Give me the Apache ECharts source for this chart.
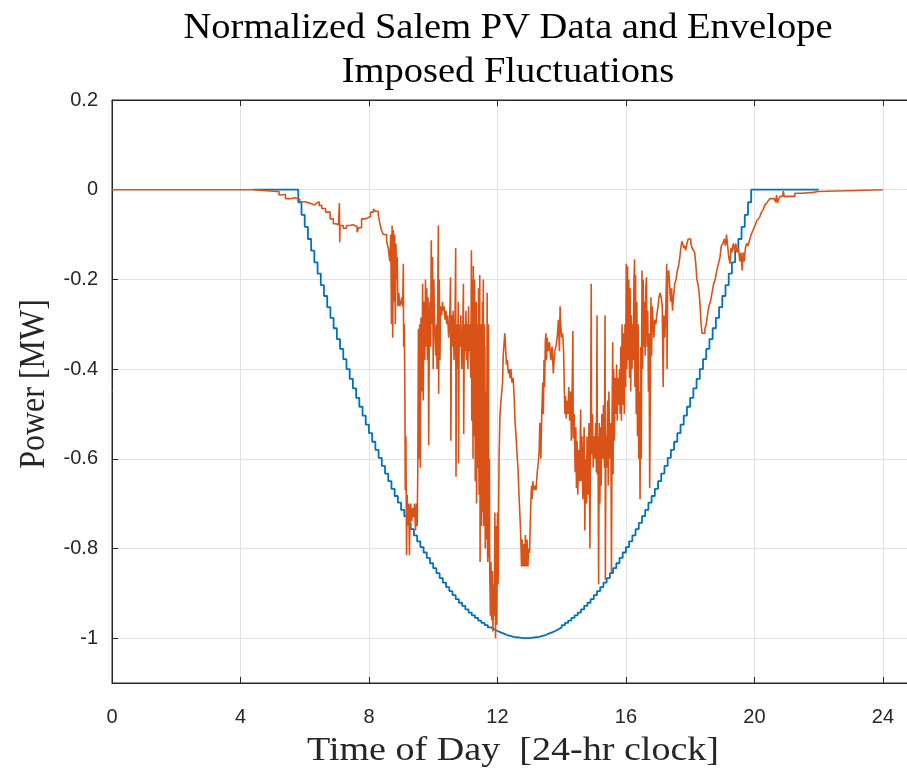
<!DOCTYPE html>
<html>
<head>
<meta charset="utf-8">
<script src="https://cdn.jsdelivr.net/npm/echarts@6/dist/echarts.min.js"></script>
<style>
html,body{margin:0;padding:0;background:#fff;}
#chart{width:907px;height:777px;}
</style>
</head>
<body>
<div id="chart"></div>
<script>
// ---- Text ----
const titleLines = ['Normalized Salem PV Data and Envelope', 'Imposed Fluctuations'];
const xAxisTitle = 'Time of Day  [24-hr clock]';
const yAxisTitle = 'Power [MW]';

// ---- Data (hours, MW) ----
const xTicks = [0, 4, 8, 12, 16, 20, 24];
const yTicks = [0.2, 0, -0.2, -0.4, -0.6, -0.8, -1];

// Envelope: flat zero before/after, stepped bowl sampled every 0.1 h from 5.8 h to 20.0 h
const envLeadIn = [[4.4, 0]];
const envStart = 5.8, envStep = 0.1;
const envValues = [
  0, -0.028, -0.056, -0.083, -0.110, -0.136, -0.162, -0.187, -0.213, -0.237,
  -0.262, -0.286, -0.309, -0.333, -0.355, -0.378, -0.400, -0.422, -0.443, -0.464,
  -0.484, -0.504, -0.524, -0.543, -0.562, -0.580, -0.598, -0.616, -0.633, -0.650,
  -0.667, -0.683, -0.698, -0.714, -0.728, -0.743, -0.757, -0.771, -0.784, -0.797,
  -0.809, -0.821, -0.833, -0.844, -0.855, -0.866, -0.876, -0.886, -0.895, -0.904,
  -0.913, -0.921, -0.928, -0.936, -0.943, -0.949, -0.955, -0.961, -0.966, -0.971,
  -0.976, -0.980, -0.984, -0.987, -0.990, -0.993, -0.995, -0.997, -0.998, -0.999,
  -1.000, -1.000,
  -1.000, -0.999, -0.998, -0.997, -0.995, -0.993, -0.990, -0.987, -0.984, -0.980,
  -0.976, -0.971, -0.966, -0.961, -0.955, -0.949, -0.943, -0.936, -0.928, -0.921,
  -0.913, -0.904, -0.895, -0.886, -0.876, -0.866, -0.855, -0.844, -0.833, -0.821,
  -0.809, -0.797, -0.784, -0.771, -0.757, -0.743, -0.728, -0.714, -0.698, -0.683,
  -0.667, -0.650, -0.633, -0.616, -0.598, -0.580, -0.562, -0.543, -0.524, -0.504,
  -0.484, -0.464, -0.443, -0.422, -0.400, -0.378, -0.355, -0.333, -0.309, -0.286,
  -0.262, -0.237, -0.213, -0.187, -0.162, -0.136, -0.110, -0.083, -0.056, -0.028, 0
];
const envLeadOut = [[22.0, 0]];

// Normalized PV measurements [hour, MW]
const pvMorning = [
  [0,0],[4.4,0],[4.4,-0.004],[5.13,-0.004],[5.2,-0.012],[5.3,-0.01],[5.4,-0.02],[5.55,-0.018],
  [5.7,-0.022],[5.85,-0.027],[6.0,-0.03],[6.16,-0.034],[6.3,-0.03],[6.37,-0.027],[6.45,-0.035],
  [6.53,-0.042],[6.65,-0.05],[6.79,-0.065],[6.89,-0.076],[6.97,-0.078],[7.05,-0.082],[7.08,-0.03],
  [7.09,-0.117],[7.1,-0.08],[7.2,-0.086],[7.3,-0.08],[7.4,-0.078],[7.5,-0.076],[7.56,-0.082],
  [7.63,-0.095],[7.68,-0.085],[7.77,-0.065],[7.9,-0.062],[7.98,-0.06],[8.05,-0.05],[8.14,-0.043],
  [8.2,-0.048],[8.29,-0.057],[8.34,-0.075],[8.39,-0.091],[8.45,-0.1],[8.55,-0.115],[8.6,-0.13],[8.65,-0.16]
];
const pvMidday1 = [
  [8.68,-0.1],[8.7,-0.3],[8.72,-0.08],[8.74,-0.33],[8.76,-0.09],[8.78,-0.25],[8.8,-0.1],[8.82,-0.3],
  [8.84,-0.12],[8.86,-0.2],[8.88,-0.15],[8.9,-0.26],[8.93,-0.23],[8.96,-0.26],[9.0,-0.25],[9.02,-0.24],
  [9.05,-0.26],[9.07,-0.165],[9.08,-0.35],[9.1,-0.3],[9.12,-0.47],[9.13,-0.67],[9.15,-0.55],[9.17,-0.815],
  [9.19,-0.68],[9.21,-0.75],[9.24,-0.7],[9.26,-0.815],[9.28,-0.72],[9.3,-0.7],[9.33,-0.74],[9.36,-0.71],
  [9.39,-0.73],[9.42,-0.7],[9.45,-0.76],[9.48,-0.7],[9.5,-0.75],[9.52,-0.63],[9.54,-0.31],[9.56,-0.6],
  [9.58,-0.3],[9.6,-0.62],[9.62,-0.285],[9.65,-0.45],[9.67,-0.21],[9.69,-0.47],[9.71,-0.25],[9.74,-0.38],
  [9.76,-0.2],[9.78,-0.35],[9.8,-0.22],[9.82,-0.38],[9.84,-0.24],[9.86,-0.57],[9.88,-0.3],[9.9,-0.25],
  [9.92,-0.35],[9.94,-0.113],[9.96,-0.3],[9.98,-0.15],[10.0,-0.4],[10.02,-0.2],[10.04,-0.3],[10.06,-0.33],
  [10.08,-0.37],[10.1,-0.3],[10.12,-0.4],[10.14,-0.25],[10.16,-0.08],[10.17,-0.455],[10.19,-0.2],[10.21,-0.38],
  [10.23,-0.26],[10.26,-0.28],[10.29,-0.25],[10.31,-0.27],[10.34,-0.26],[10.37,-0.29],[10.4,-0.27],[10.42,-0.3],
  [10.45,-0.28],[10.48,-0.33],[10.51,-0.3],[10.54,-0.195],[10.55,-0.56],[10.57,-0.28],[10.6,-0.35],[10.62,-0.27],
  [10.65,-0.38],[10.68,-0.28],[10.7,-0.13],[10.71,-0.64],[10.73,-0.3],[10.76,-0.4],[10.78,-0.25],[10.79,-0.61],
  [10.81,-0.3],[10.84,-0.35],[10.86,-0.28],[10.89,-0.4],[10.92,-0.32],[10.94,-0.21],[10.95,-0.545],[10.97,-0.3],
  [11.0,-0.36],[11.02,-0.27],[11.04,-0.38],[11.06,-0.3],[11.08,-0.4],[11.1,-0.26],[11.12,-0.36],[11.14,-0.3],
  [11.17,-0.42],[11.19,-0.135],[11.2,-0.515],[11.22,-0.2],[11.24,-0.6],[11.25,-0.17],[11.27,-0.55],[11.29,-0.2],
  [11.30,-0.3],[11.31,-0.65],[11.32,-0.28],[11.33,-0.6],[11.34,-0.25],[11.35,-0.7],[11.36,-0.35],[11.37,-0.62],
  [11.38,-0.3],[11.39,-0.62],[11.40,-0.4],[11.41,-0.22],[11.42,-0.6],[11.43,-0.68],[11.44,-0.3],[11.45,-0.19],
  [11.46,-0.83],[11.47,-0.4],[11.48,-0.7],[11.49,-0.3],[11.5,-0.75],[11.51,-0.35],[11.52,-0.72],[11.53,-0.25],
  [11.54,-0.7],[11.55,-0.4],[11.56,-0.2],[11.57,-0.75],[11.58,-0.66],[11.59,-0.3],[11.6,-0.7],[11.61,-0.35],
  [11.62,-0.8],[11.63,-0.5],[11.64,-0.78],[11.65,-0.45],[11.66,-0.75],[11.67,-0.5],[11.68,-0.23],[11.69,-0.8],
  [11.7,-0.83],[11.71,-0.4],[11.72,-0.3],[11.73,-0.8],[11.74,-0.82],[11.75,-0.6],[11.76,-0.85],
  [11.78,-0.95],[11.8,-0.83],[11.82,-0.96],[11.84,-0.85],[11.86,-0.985],[11.88,-0.88],[11.9,-0.95],[11.92,-0.72],
  [11.94,-1.0],[11.96,-0.75],[11.98,-0.97],[12.0,-0.72]
];
const pvMidday2 = [
  [12.02,-0.88],[12.05,-0.6],[12.08,-0.5],[12.11,-0.47],[12.13,-0.455],[12.16,-0.43],[12.18,-0.37],[12.21,-0.34],
  [12.23,-0.32],[12.26,-0.36],[12.28,-0.39],[12.31,-0.38],[12.34,-0.41],[12.37,-0.4],[12.39,-0.42],[12.42,-0.4],
  [12.45,-0.43],[12.49,-0.42],[12.52,-0.46],[12.55,-0.52],[12.58,-0.55],[12.61,-0.59],[12.64,-0.62],[12.67,-0.68],
  [12.69,-0.71],[12.72,-0.76],[12.75,-0.84],[12.77,-0.78],[12.8,-0.84],[12.82,-0.79],[12.85,-0.84],[12.87,-0.77],
  [12.9,-0.84],[12.92,-0.78],[12.95,-0.84],[12.97,-0.8],[13.0,-0.81],[13.03,-0.72],[13.06,-0.66],[13.08,-0.69],
  [13.1,-0.65],[13.13,-0.67],[13.16,-0.66],[13.2,-0.67],[13.24,-0.63],[13.27,-0.61],[13.3,-0.58],[13.32,-0.52],
  [13.35,-0.6],[13.38,-0.5],[13.41,-0.43],[13.43,-0.5],[13.45,-0.38],[13.47,-0.44],[13.49,-0.34],[13.51,-0.32],
  [13.53,-0.38],[13.55,-0.33],[13.58,-0.36],[13.62,-0.34],[13.66,-0.38],[13.7,-0.35],[13.74,-0.41],[13.78,-0.36],
  [13.82,-0.35],[13.86,-0.33],[13.9,-0.29],[13.93,-0.36],[13.95,-0.26],[13.97,-0.3],[14.0,-0.33],[14.03,-0.32],
  [14.06,-0.36],[14.08,-0.44],[14.1,-0.5],[14.12,-0.46],[14.14,-0.51],[14.17,-0.47],[14.2,-0.5],[14.22,-0.44],
  [14.25,-0.515],[14.28,-0.45],[14.3,-0.56],[14.32,-0.48],[14.35,-0.315],[14.36,-0.555],[14.39,-0.5],[14.42,-0.63],
  [14.44,-0.53],[14.46,-0.665],[14.48,-0.56],[14.5,-0.68],[14.53,-0.58],[14.56,-0.65],[14.59,-0.49],[14.61,-0.65],
  [14.63,-0.55],[14.66,-0.69],[14.68,-0.6],[14.7,-0.53],[14.72,-0.76],[14.74,-0.6],[14.77,-0.7],[14.79,-0.55],
  [14.82,-0.68],[14.85,-0.52],[14.88,-0.8],[14.9,-0.55]
];
const pvAfternoon = [
  [14.92,-0.21],[14.93,-0.59],[14.96,-0.5],[14.98,-0.62],[15.0,-0.55],[15.03,-0.6],[15.06,-0.52],[15.08,-0.63],
  [15.1,-0.28],[15.11,-0.635],[15.13,-0.55],[15.15,-0.88],[15.17,-0.52],[15.19,-0.7],[15.21,-0.53],[15.23,-0.66],
  [15.25,-0.5],[15.28,-0.6],[15.3,-0.48],[15.33,-0.62],[15.35,-0.28],[15.36,-0.87],[15.38,-0.55],[15.4,-0.62],
  [15.43,-0.47],[15.45,-0.66],[15.47,-0.45],[15.5,-0.6],[15.53,-0.52],[15.55,-0.855],[15.57,-0.5],[15.59,-0.34],
  [15.6,-0.635],[15.62,-0.4],[15.64,-0.56],[15.66,-0.42],[15.69,-0.5],[15.71,-0.39],[15.73,-0.515],[15.75,-0.42],
  [15.78,-0.48],[15.8,-0.4],[15.82,-0.5],[15.84,-0.35],[15.86,-0.515],[15.88,-0.3],[15.9,-0.48],[15.92,-0.32],
  [15.95,-0.5],[15.97,-0.3],[15.99,-0.44],[16.01,-0.165],[16.03,-0.4],[16.05,-0.17],[16.07,-0.38],[16.09,-0.2],
  [16.11,-0.42],[16.13,-0.22],[16.15,-0.45],[16.17,-0.28],[16.19,-0.4],[16.21,-0.3],[16.23,-0.38],[16.25,-0.2],
  [16.27,-0.155],[16.28,-0.44],[16.3,-0.19],[16.32,-0.5],[16.34,-0.25],[16.36,-0.55],[16.38,-0.3],[16.4,-0.6],
  [16.42,-0.45],[16.44,-0.69],[16.46,-0.35],[16.48,-0.6],[16.5,-0.18],[16.52,-0.4],[16.54,-0.2],[16.56,-0.35],
  [16.58,-0.25],[16.6,-0.37],[16.62,-0.22],[16.64,-0.195],[16.66,-0.35],[16.68,-0.27],[16.7,-0.45],[16.72,-0.32],
  [16.74,-0.665],[16.76,-0.45],[16.78,-0.24],[16.8,-0.37],[16.82,-0.26],[16.85,-0.3],[16.87,-0.33],[16.9,-0.29],
  [16.93,-0.3],[16.96,-0.28],[17.0,-0.26],[17.03,-0.24],[17.06,-0.23],[17.1,-0.24],[17.13,-0.26],[17.16,-0.44],
  [17.18,-0.28],[17.21,-0.33],[17.24,-0.27],[17.27,-0.165],[17.28,-0.4],[17.3,-0.2]
];
const pvEvening = [
  [17.33,-0.18],[17.36,-0.21],[17.39,-0.25],[17.42,-0.22],[17.45,-0.27],[17.48,-0.24],[17.52,-0.21],[17.56,-0.2],
  [17.6,-0.18],[17.64,-0.17],[17.68,-0.15],[17.71,-0.13],[17.74,-0.115],[17.77,-0.12],[17.8,-0.13],[17.83,-0.125],
  [17.86,-0.135],[17.9,-0.12],[17.94,-0.11],[17.98,-0.11],[18.02,-0.12],[18.06,-0.13],[18.1,-0.135],[18.14,-0.14],
  [18.18,-0.17],[18.21,-0.2],[18.24,-0.21],[18.28,-0.23],[18.31,-0.26],[18.34,-0.3],[18.37,-0.32],[18.42,-0.32],
  [18.46,-0.31],[18.5,-0.3],[18.54,-0.28],[18.58,-0.26],[18.63,-0.25],[18.68,-0.23],[18.73,-0.21],[18.78,-0.2],
  [18.83,-0.18],[18.88,-0.165],[18.93,-0.15],[18.97,-0.125],[19.02,-0.12],[19.06,-0.11],[19.1,-0.125],[19.13,-0.1],
  [19.16,-0.12],[19.2,-0.15],[19.24,-0.165],[19.27,-0.13],[19.3,-0.14],[19.34,-0.12],[19.38,-0.135],[19.42,-0.12],
  [19.46,-0.14],[19.5,-0.13],[19.55,-0.16],[19.58,-0.14],[19.62,-0.18],[19.65,-0.14],[19.68,-0.16],[19.72,-0.13],
  [19.76,-0.12],[19.8,-0.125],[19.86,-0.11],[19.9,-0.1],[19.96,-0.09],[20.02,-0.08],[20.07,-0.07],[20.12,-0.065],
  [20.17,-0.06],[20.22,-0.05],[20.27,-0.045],[20.32,-0.035],[20.38,-0.03],[20.43,-0.025],[20.48,-0.02],[20.55,-0.02],
  [20.62,-0.018],[20.66,-0.028],[20.69,-0.012],[20.72,-0.03],[20.76,-0.02],[20.8,-0.015],[20.88,-0.015],[20.9,-0.003],
  [20.93,-0.015],[21.15,-0.015],[21.26,-0.008],[21.5,-0.006],[21.83,-0.004],[21.98,-0.002],[22.0,0],[24,0]
];

// ---- Build series data ----
const envData = envLeadIn.concat(
  envValues.map((v, i) => [+(envStart + i * envStep).toFixed(2), v]),
  envLeadOut
);
const pvData = pvMorning.concat(pvMidday1, pvMidday2, pvAfternoon, pvEvening);

const axisColor = '#262626';
const gridColor = '#e2e2e2';
const labelFont = 'Liberation Sans';
const stretch = 1.12;

const chart = echarts.init(document.getElementById('chart'), null, {renderer: 'canvas'});
chart.setOption({
  animation: false,
  backgroundColor: '#ffffff',
  graphic: [
    {type: 'text', x: 508, y: 29, scaleX: 1.1, silent: true,
     style: {text: titleLines[0], font: '35px "Liberation Serif"', fill: '#000',
             align: 'center', verticalAlign: 'middle'}},
    {type: 'text', x: 508, y: 73, scaleX: 1.1, silent: true,
     style: {text: titleLines[1], font: '35px "Liberation Serif"', fill: '#000',
             align: 'center', verticalAlign: 'middle'}},
    {type: 'text', x: 513, y: 751, scaleX: stretch, silent: true,
     style: {text: xAxisTitle, font: '34px "Liberation Serif"', fill: axisColor,
             align: 'center', verticalAlign: 'middle'}},
    {type: 'text', x: 35, y: 384, rotation: Math.PI / 2, scaleY: stretch, silent: true,
     style: {text: yAxisTitle, font: '32px "Liberation Serif"', fill: axisColor,
             align: 'center', verticalAlign: 'middle'}}
  ],
  grid: {left: 112, top: 100, right: -8, bottom: 94, containLabel: false, outerBoundsMode: 'none',
         show: true, borderColor: axisColor, borderWidth: 1, backgroundColor: 'transparent'},
  xAxis: [{
    type: 'value', min: 0, max: 25, interval: 4, position: 'bottom',
    axisLine: {show: true, onZero: false, lineStyle: {color: axisColor, width: 1}},
    axisTick: {show: true, inside: true, length: 6, lineStyle: {color: axisColor}},
    axisLabel: {show: true, fontFamily: labelFont, fontSize: 20, color: axisColor, margin: 24,
      showMaxLabel: false,
      formatter: v => (xTicks.indexOf(v) >= 0 ? String(v) : '')},
    splitLine: {show: true, lineStyle: {color: gridColor, width: 1}}
  }, {
    type: 'value', min: 0, max: 25, interval: 4, position: 'top',
    axisLine: {show: true, onZero: false, lineStyle: {color: axisColor, width: 1}},
    axisTick: {show: true, inside: true, length: 6, lineStyle: {color: axisColor}},
    axisLabel: {show: false}, splitLine: {show: false}
  }],
  yAxis: {
    type: 'value', min: -1.1, max: 0.2, splitNumber: 6,
    axisLine: {show: true, onZero: false, lineStyle: {color: axisColor, width: 1}},
    axisTick: {show: true, inside: true, length: 6, lineStyle: {color: axisColor}},
    axisLabel: {show: true, fontFamily: labelFont, fontSize: 20, color: axisColor, margin: 14,
      formatter: v => {
        const hit = yTicks.find(t => Math.abs(t - v) < 1e-6);
        return hit === undefined ? '' : String(hit);
      }},
    splitLine: {show: true, lineStyle: {color: gridColor, width: 1}}
  },
  series: [{
    name: 'Envelope', type: 'line', step: 'start', data: envData, showSymbol: false,
    lineStyle: {color: '#0072BD', width: 1.8}, itemStyle: {color: '#0072BD'}, z: 2
  }, {
    name: 'PV', type: 'line', step: 'end', data: pvData, showSymbol: false,
    lineStyle: {color: '#D95319', width: 1.6}, itemStyle: {color: '#D95319'}, z: 3
  }]
});
</script>
</body>
</html>
